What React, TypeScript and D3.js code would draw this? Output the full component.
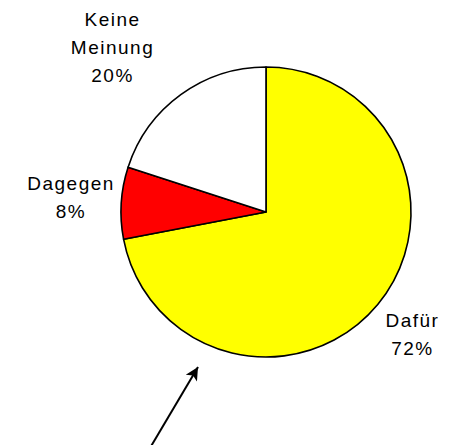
import { useEffect, useRef } from "react";
import * as d3 from "d3";

// Umfrage: Dafür / Dagegen / Keine Meinung
const categories = ["Dafür", "Dagegen", "Keine Meinung"];
const values = [72, 8, 20];
const colors = ["#ffff00", "#ff0000", "#ffffff"];

export default function App() {
    const svgRef = useRef<SVGSVGElement | null>(null);

    useEffect(() => {
        if (!svgRef.current) return;
        const svg = d3.select(svgRef.current);
        svg.selectAll("*").remove();

        const width = 450;
        const height = 445;
        const cx = 266;
        const cy = 212;
        const radius = 145;
        const fontSize = 19;
        const letterSpacing = 1.5;
        const lineHeight = 28;

        const pie = d3.pie<number>().sort(null).value(d => d);
        const arcs = pie(values);
        const arc = d3.arc<d3.PieArcDatum<number>>().innerRadius(0).outerRadius(radius);

        const g = svg.append("g").attr("transform", `translate(${cx},${cy})`);

        g.selectAll("path.slice")
            .data(arcs)
            .enter()
            .append("path")
            .attr("class", "slice")
            .attr("d", arc)
            .attr("fill", (_, i) => colors[i])
            .attr("stroke", "#000")
            .attr("stroke-width", 1.6)
            .attr("stroke-linejoin", "round");

        // label offsets from the point on the rim at each slice's mid angle
        const labelOffset: [number, number][] = [[34, 23], [-51, -13], [-69, -69]];

        const labels = g.selectAll("text.label")
            .data(arcs)
            .enter()
            .append("text")
            .attr("class", "label")
            .attr("text-anchor", "middle")
            .attr("font-family", "'Liberation Sans', Arial, sans-serif")
            .attr("font-size", fontSize)
            .attr("letter-spacing", letterSpacing)
            .attr("fill", "#000")
            .attr("transform", (d, i) => {
                const a = (d.startAngle + d.endAngle) / 2;
                const x = Math.sin(a) * radius + labelOffset[i][0] + letterSpacing / 2;
                const y = -Math.cos(a) * radius + labelOffset[i][1];
                return `translate(${x},${y})`;
            });

        labels.each(function (d, i) {
            const lines = [...categories[i].split(" "), `${d3.format(".0f")(d.data)}%`];
            const t = d3.select(this);
            lines.forEach((line, j) => {
                t.append("tspan").attr("x", 0).attr("y", j * lineHeight).text(line);
            });
        });

        // arrow annotation
        const defs = svg.append("defs");
        defs.append("marker")
            .attr("id", "arrowhead")
            .attr("viewBox", "0 0 10 10")
            .attr("refX", 10)
            .attr("refY", 5)
            .attr("markerWidth", 7.5)
            .attr("markerHeight", 6.5)
            .attr("markerUnits", "strokeWidth")
            .attr("orient", "auto")
            .append("path")
            .attr("d", "M0,0 L10,5 L0,10 L2.5,5 Z")
            .attr("fill", "#000");

        svg.append("line")
            .attr("x1", 150)
            .attr("y1", 448)
            .attr("x2", 198)
            .attr("y2", 367)
            .attr("stroke", "#000")
            .attr("stroke-width", 2)
            .attr("marker-end", "url(#arrowhead)");

        svg.attr("width", width).attr("height", height);
    }, []);

    return (
        <svg
            ref={svgRef}
            width={450}
            height={445}
            style={{ position: "absolute", left: 0, top: 0, background: "#fff" }}
        />
    );
}
